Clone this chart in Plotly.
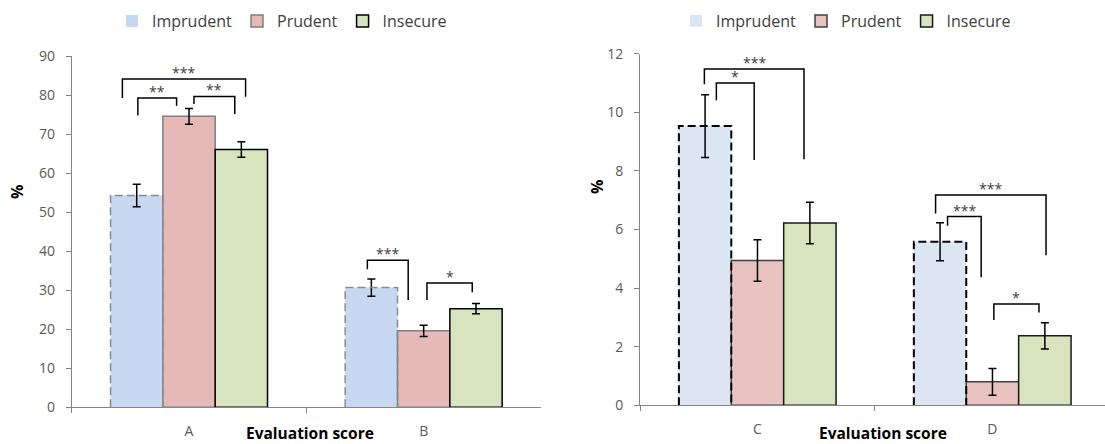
import plotly.graph_objects as go

# ---------------- data ----------------
categories_left = ["A", "B"]
categories_right = ["C", "D"]
series_names = ["Imprudent", "Prudent", "Insecure"]

imprudent_left = [54.3, 30.7]
imprudent_left_err = [2.9, 2.2]
prudent_left = [74.6, 19.6]
prudent_left_err = [2.0, 1.45]
insecure_left = [66.1, 25.3]
insecure_left_err = [2.0, 1.3]

imprudent_right = [9.53, 5.58]
imprudent_right_err = [1.07, 0.65]
prudent_right = [4.94, 0.80]
prudent_right_err = [0.71, 0.46]
insecure_right = [6.22, 2.37]
insecure_right_err = [0.71, 0.45]

# significance brackets: (label, category index, x-left offset, x-right offset,
#                         top, left-leg bottom, right-leg bottom)
sig_left = [
    ("**", 0, -0.218, -0.053, 79.3, 74.8, 77.3),
    ("**", 0, 0.021, 0.195, 79.7, 77.8, 75.2),
    ("***", 0, -0.284, 0.241, 84.2, 79.3, 79.6),
    ("***", 1, -0.240, -0.066, 37.7, 35.4, 27.5),
    ("*", 1, 0.014, 0.207, 31.9, 27.5, 29.5),
]
sig_right = [
    ("***", 0, -0.226, 0.198, 11.48, 10.96, 8.40),
    ("*", 0, -0.175, -0.014, 11.0, 10.41, 8.37),
    ("***", 1, -0.242, 0.228, 7.18, 6.55, 5.12),
    ("***", 1, -0.191, -0.048, 6.44, 6.13, 4.37),
    ("*", 1, 0.006, 0.198, 3.46, 2.91, 3.17),
]

FONT = "Open Sans"
AXIS_GREY = "#868686"
TEXT_GREY = "#595959"
BARGAP = 0.331
BAR_W = (1 - BARGAP) / 3

fig = go.Figure()

panels = [
    dict(cats=categories_left, xa="x", ya="y", legend="legend",
         vals=[imprudent_left, prudent_left, insecure_left],
         errs=[imprudent_left_err, prudent_left_err, insecure_left_err],
         fills=["#c6d9f1", "#e6b9b8", "#d7e4bd"],
         lines=[None, "#7f7f7f", "#000000"],
         dashcol="#8a8a8a", dashw=1.5),
    dict(cats=categories_right, xa="x2", ya="y2", legend="legend2",
         vals=[imprudent_right, prudent_right, insecure_right],
         errs=[imprudent_right_err, prudent_right_err, insecure_right_err],
         fills=["#dce6f2", "#e9c2c2", "#d7e4bd"],
         lines=[None, "#404040", "#1a1a1a"],
         dashcol="#000000", dashw=2),
]

shapes = []
for p in panels:
    for i, name in enumerate(series_names):
        lc = p["lines"][i]
        fig.add_trace(go.Bar(
            x=p["cats"], y=p["vals"][i], name=name,
            xaxis=p["xa"], yaxis=p["ya"], legend=p["legend"],
            marker=dict(color=p["fills"][i],
                        line=dict(color=lc if lc else p["fills"][i],
                                  width=1.5 if lc else 0)),
            error_y=dict(type="data", array=p["errs"][i], color="#000000",
                         thickness=1.5, width=4),
        ))
    # dashed outline of the Imprudent bars, from the data
    for ci, v in enumerate(p["vals"][0]):
        x0 = ci - 3 * BAR_W / 2
        x1 = x0 + BAR_W
        shapes.append(dict(
            type="path", xref=p["xa"], yref=p["ya"],
            path=f"M {x0} 0 L {x0} {v} L {x1} {v} L {x1} 0",
            line=dict(color=p["dashcol"], width=p["dashw"], dash="8px,4px"),
            layer="above"))

annotations = []
for sigs, xa, ya in [(sig_left, "x", "y"), (sig_right, "x2", "y2")]:
    for lab, ci, xl, xr, top, lb, rb in sigs:
        shapes.append(dict(
            type="path", xref=xa, yref=ya,
            path=f"M {ci + xl} {lb} L {ci + xl} {top} L {ci + xr} {top} L {ci + xr} {rb}",
            line=dict(color="#000000", width=1.5), layer="above"))
        annotations.append(dict(
            x=ci + (xl + xr) / 2, y=top, xref=xa, yref=ya, text=lab,
            showarrow=False, xanchor="center", yanchor="bottom", yshift=-5,
            font=dict(family=FONT, size=14, color="#404040")))

# axis titles
for x, y in [(17 / 1105, 1 - 192 / 444), (597 / 1105, 1 - 187 / 444)]:
    annotations.append(dict(x=x, y=y, xref="paper", yref="paper", text="<b>%</b>",
                            showarrow=False, textangle=-90,
                            xanchor="center", yanchor="middle",
                            font=dict(family=FONT, size=16, color="#000000")))
for x in [310 / 1105, 882.5 / 1105]:
    annotations.append(dict(x=x, y=1 - 433 / 444, xref="paper", yref="paper",
                            text="<b>Evaluation score</b>", showarrow=False,
                            xanchor="center", yanchor="middle", borderpad=0,
                            font=dict(family=FONT, size=15.5, color="#000000")))

xaxis_common = dict(showline=True, linecolor=AXIS_GREY, linewidth=1,
                    ticks="outside", ticklen=5, tickcolor=AXIS_GREY,
                    tickson="boundaries", showgrid=False, zeroline=False,
                    tickfont=dict(family=FONT, size=14, color=TEXT_GREY),
                    ticklabelstandoff=11, type="category", automargin=False)
yaxis_common = dict(showline=True, linecolor=AXIS_GREY, linewidth=1,
                    ticks="outside", ticklen=5, tickcolor=AXIS_GREY,
                    showgrid=False, zeroline=False,
                    tickfont=dict(family=FONT, size=14, color=TEXT_GREY),
                    ticklabelstandoff=8, automargin=False)

legend_common = dict(orientation="h", yanchor="middle", xanchor="center",
                     font=dict(family=FONT, size=16, color="#404040"),
                     bgcolor="rgba(0,0,0,0)", itemwidth=30, traceorder="normal")

fig.update_layout(
    width=1105, height=444,
    margin=dict(l=0, r=0, t=0, b=0, pad=0, autoexpand=False),
    paper_bgcolor="white", plot_bgcolor="white",
    barmode="group", bargap=BARGAP, bargroupgap=0,
    xaxis=dict(domain=[71.7 / 1105, 541 / 1105], range=[-0.5, 1.5], anchor="y",
               **xaxis_common),
    yaxis=dict(domain=[1 - 407.3 / 444, 1 - 56.3 / 444], range=[0, 90], dtick=10,
               anchor="x", **yaxis_common),
    xaxis2=dict(domain=[640 / 1105, 1.0], range=[-0.5, 1.479], anchor="y2",
                **xaxis_common),
    yaxis2=dict(domain=[1 - 405.3 / 444, 1 - 53.7 / 444], range=[0, 12], dtick=2,
                anchor="x2", **yaxis_common),
    legend=dict(x=282 / 1105, y=1 - 21 / 444, **legend_common),
    legend2=dict(x=846 / 1105, y=1 - 21 / 444, **legend_common),
    shapes=shapes,
    annotations=annotations,
)

fig.write_html("out.html")
